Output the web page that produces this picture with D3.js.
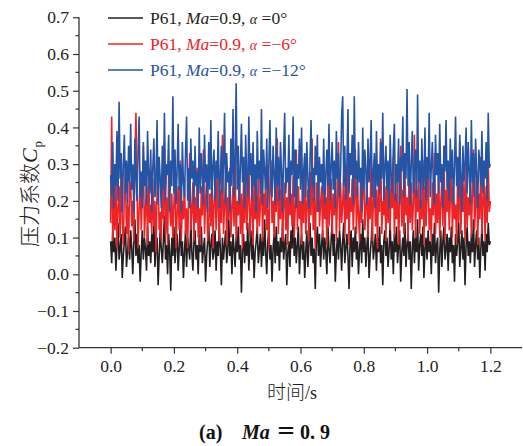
<!DOCTYPE html>
<html><head><meta charset="utf-8">
<script src="https://cdn.jsdelivr.net/npm/d3@7"></script>
<style>
body{margin:0;background:#fff;}
svg{display:block;}
text{font-family:"Liberation Serif","Times New Roman","Noto Sans CJK SC",serif;}
</style></head>
<body>
<svg id="c" width="523" height="446"></svg>
<script>
// ---- data ----
const duration = 1.2; // record length (s), samples evenly spaced over it
const seriesAlpha = ["0°", "−6°", "−12°"];
const seriesColors = ["#231f20", "#ec2327", "#2654a5"];
const black = [
0.09,0.03,0.12,0.06,0.10,0.01,0.08,0.14,0.04,0.07,0.11,-0.01,0.05,0.09,0.13,0.02,0.06,0.10,0.04,0.12,
0.07,0.00,0.09,0.15,0.05,0.11,0.03,0.08,-0.02,0.06,0.12,0.04,0.10,0.07,0.01,0.13,0.05,0.09,0.03,0.11,
0.06,0.14,0.02,0.08,0.10,-0.03,0.05,0.12,0.07,0.03,0.09,0.16,0.04,0.08,0.00,0.11,0.06,-0.045,0.10,0.05,
0.13,0.03,0.08,0.11,0.01,0.07,0.14,0.05,0.09,-0.01,0.06,0.12,0.02,0.10,0.07,0.04,0.15,0.06,0.01,0.09,
0.12,0.04,0.08,0.00,0.11,0.06,0.13,0.03,0.07,0.10,-0.02,0.05,0.09,0.14,0.02,0.08,0.11,0.04,0.06,0.12,
0.01,0.09,0.05,0.13,0.07,-0.03,0.10,0.04,0.08,0.12,0.03,0.06,0.15,0.05,0.09,0.00,0.11,0.07,0.02,0.10,
0.06,0.13,0.04,0.08,-0.05,0.07,0.11,0.03,0.09,0.05,0.14,0.01,0.08,0.12,0.04,0.10,-0.01,0.06,0.09,0.13,
0.03,0.07,0.11,0.02,0.10,0.05,0.15,0.06,0.00,0.09,0.12,0.04,0.08,-0.02,0.07,0.11,0.03,0.13,0.05,0.09,
0.01,0.10,0.06,0.14,0.04,0.08,0.11,-0.03,0.06,0.09,0.02,0.12,0.07,0.16,0.05,0.10,0.03,0.08,0.13,0.00,
0.07,0.11,0.04,0.09,-0.01,0.06,0.12,0.02,0.08,0.14,0.05,0.10,0.03,0.07,-0.04,0.09,0.13,0.05,0.11,0.02,
0.08,0.12,0.04,0.10,0.06,0.00,0.13,0.07,0.03,0.09,0.15,0.05,0.11,-0.02,0.06,0.10,0.04,0.12,0.08,0.01,
0.09,0.14,0.03,0.07,0.11,0.05,-0.04,0.08,0.12,0.02,0.10,0.06,0.13,0.04,0.09,0.00,0.07,0.11,0.03,0.15,
0.06,0.10,0.02,0.08,0.12,-0.01,0.05,0.09,0.14,0.04,0.07,0.11,0.01,0.10,0.06,0.13,0.03,0.08,-0.03,0.09,
0.12,0.05,0.10,0.02,0.07,0.14,0.04,0.09,0.00,0.11,0.06,0.13,0.03,0.08,0.12,-0.02,0.06,0.10,0.05,0.14,
0.02,0.08,0.11,0.04,0.09,-0.04,0.07,0.12,0.03,0.10,0.06,0.15,0.01,0.08,0.11,0.05,0.13,-0.01,0.07,0.10,
0.04,0.12,0.06,0.09,0.00,0.11,0.05,0.14,0.03,0.08,0.10,-0.05,0.06,0.12,0.02,0.09,0.13,0.04,0.07,0.11,
0.01,0.10,0.06,0.13,0.03,0.08,-0.02,0.11,0.05,0.09,0.14,0.02,0.07,0.12,0.04,0.10,-0.03,0.08,0.13,0.05,
0.09,0.03,0.11,0.06,0.15,0.02,0.08,0.12,0.04,0.10,-0.01,0.07,0.13,0.05,0.09,0.01,0.11,0.06,0.14,0.08,
0.09];
const red = [
0.14,0.43,0.09,0.21,0.12,0.27,0.07,0.18,0.24,0.10,0.33,0.15,0.08,0.22,0.28,0.11,0.19,0.06,0.25,0.25,
0.13,0.20,0.09,0.31,0.44,0.23,0.07,0.18,0.27,0.12,0.21,0.35,0.10,0.17,0.24,0.08,0.29,0.14,0.19,0.11,
0.26,0.13,0.20,0.06,0.23,0.30,0.12,0.17,0.09,0.25,0.15,0.36,0.11,0.21,0.08,0.27,0.18,0.13,0.22,0.10,
0.19,0.28,0.07,0.16,0.24,0.12,0.31,0.09,0.20,0.15,0.26,0.11,0.18,0.07,0.23,0.33,0.12,0.17,0.25,0.09,
0.21,0.14,0.29,0.10,0.18,0.08,0.24,0.16,0.34,0.11,0.20,0.26,0.09,0.15,0.22,0.13,0.28,0.07,0.19,0.25,
0.12,0.30,0.17,0.09,0.23,0.14,0.38,0.11,0.19,0.26,0.08,0.21,0.15,0.29,0.10,0.18,0.24,0.13,0.32,0.09,
0.20,0.16,0.27,0.11,0.22,0.07,0.25,0.14,0.30,0.12,0.19,0.35,0.10,0.17,0.23,0.08,0.26,0.15,0.21,0.11,
0.28,0.13,0.19,0.33,0.09,0.22,0.16,0.27,0.12,0.18,0.07,0.24,0.31,0.14,0.20,0.10,0.26,0.17,0.37,0.11,
0.23,0.15,0.29,0.09,0.19,0.25,0.12,0.21,0.08,0.30,0.16,0.22,0.13,0.27,0.10,0.18,0.34,0.12,0.24,0.15,
0.20,0.08,0.26,0.14,0.32,0.11,0.19,0.23,0.09,0.28,0.16,0.37,0.12,0.21,0.07,0.25,0.17,0.30,0.13,0.19,
0.24,0.10,0.27,0.15,0.21,0.08,0.33,0.13,0.18,0.26,0.11,0.22,0.16,0.29,0.09,0.20,0.36,0.12,0.25,0.14,
0.19,0.28,0.10,0.23,0.15,0.31,0.08,0.21,0.17,0.26,0.12,0.20,0.34,0.11,0.24,0.16,0.09,0.27,0.14,0.22,
0.30,0.12,0.18,0.25,0.10,0.21,0.15,0.33,0.09,0.19,0.27,0.13,0.23,0.07,0.26,0.17,0.37,0.11,0.20,0.16,
0.24,0.09,0.29,0.14,0.21,0.12,0.27,0.18,0.32,0.10,0.22,0.15,0.26,0.08,0.19,0.35,0.13,0.23,0.11,0.28,
0.16,0.21,0.09,0.30,0.14,0.25,0.12,0.19,0.38,0.10,0.23,0.17,0.27,0.11,0.20,0.15,0.31,0.08,0.24,0.13,
0.21,0.28,0.12,0.18,0.09,0.25,0.16,0.33,0.11,0.22,0.14,0.29,0.10,0.19,0.26,0.13,0.35,0.09,0.23,0.17,
0.27,0.12,0.20,0.31,0.10,0.24,0.15,0.19,0.08,0.28,0.14,0.36,0.11,0.22,0.17,0.25,0.09,0.30,0.13,0.21,
0.16,0.26,0.10,0.23,0.34,0.12,0.19,0.28,0.08,0.22,0.15,0.32,0.11,0.20,0.26,0.09,0.24,0.14,0.30,0.17,
0.20];
const blue = [
0.27,0.21,0.36,0.18,0.30,0.24,0.39,0.20,0.47,0.26,0.33,0.17,0.29,0.38,0.22,0.31,0.19,0.35,0.25,0.41,
0.23,0.30,0.17,0.37,0.26,0.20,0.33,0.43,0.21,0.28,0.18,0.36,0.24,0.31,0.19,0.39,0.27,0.22,0.34,0.17,
0.29,0.37,0.21,0.25,0.42,0.19,0.32,0.26,0.18,0.35,0.23,0.44,0.20,0.30,0.27,0.38,0.17,0.31,0.24,0.485,
0.22,0.34,0.19,0.28,0.41,0.23,0.30,0.17,0.36,0.25,0.21,0.33,0.43,0.20,0.29,0.18,0.37,0.26,0.31,0.19,
0.35,0.24,0.28,0.18,0.40,0.22,0.33,0.27,0.19,0.38,0.25,0.30,0.17,0.36,0.23,0.42,0.21,0.29,0.34,0.20,
0.31,0.26,0.39,0.18,0.27,0.35,0.22,0.30,0.44,0.19,0.33,0.25,0.28,0.17,0.37,0.24,0.45,0.21,0.30,0.52,
0.23,0.35,0.19,0.29,0.41,0.25,0.32,0.18,0.38,0.26,0.21,0.43,0.27,0.33,0.20,0.36,0.24,0.30,0.17,0.39,
0.26,0.31,0.22,0.45,0.19,0.34,0.28,0.23,0.37,0.18,0.30,0.42,0.25,0.21,0.35,0.27,0.19,0.40,0.24,0.32,
0.20,0.36,0.28,0.17,0.33,0.44,0.22,0.29,0.25,0.38,0.19,0.31,0.27,0.43,0.21,0.34,0.18,0.30,0.26,0.37,
0.23,0.40,0.19,0.28,0.33,0.21,0.36,0.26,0.18,0.31,0.42,0.24,0.29,0.20,0.35,0.27,0.38,0.17,0.32,0.25,
0.30,0.22,0.37,0.19,0.27,0.34,0.24,0.41,0.20,0.29,0.36,0.23,0.31,0.18,0.39,0.26,0.33,0.21,0.28,0.43,
0.485,0.24,0.35,0.20,0.30,0.45,0.22,0.33,0.27,0.38,0.19,0.485,0.26,0.31,0.21,0.36,0.25,0.29,0.17,0.40,
0.23,0.34,0.28,0.19,0.37,0.25,0.31,0.42,0.21,0.27,0.33,0.18,0.39,0.24,0.30,0.22,0.36,0.26,0.44,0.20,
0.29,0.35,0.23,0.31,0.18,0.38,0.27,0.22,0.34,0.41,0.20,0.30,0.25,0.37,0.19,0.32,0.28,0.43,0.21,0.33,
0.26,0.505,0.24,0.36,0.19,0.30,0.39,0.22,0.28,0.34,0.21,0.49,0.25,0.31,0.18,0.37,0.27,0.23,0.40,0.20,
0.32,0.26,0.44,0.21,0.29,0.36,0.24,0.19,0.38,0.27,0.33,0.22,0.41,0.25,0.30,0.18,0.35,0.28,0.42,0.23,
0.31,0.20,0.37,0.26,0.34,0.19,0.29,0.43,0.24,0.32,0.21,0.38,0.27,0.17,0.35,0.25,0.30,0.40,0.22,0.36,
0.28,0.19,0.42,0.25,0.33,0.21,0.37,0.27,0.18,0.34,0.30,0.24,0.39,0.22,0.31,0.26,0.36,0.20,0.44,0.29,
0.30];
const xTicks = [0.0, 0.2, 0.4, 0.6, 0.8, 1.0, 1.2];
const xMinor = [0.1, 0.3, 0.5, 0.7, 0.9, 1.1];
const yTicks = [-0.2, -0.1, 0.0, 0.1, 0.2, 0.3, 0.4, 0.5, 0.6, 0.7];
const yMinor = [-0.15, -0.05, 0.05, 0.15, 0.25, 0.35, 0.45, 0.55, 0.65];

// ---- chart ----
const svg = d3.select("#c");
const x = d3.scaleLinear().domain([-0.1, 1.3]).range([79, 522]);
const y = d3.scaleLinear().domain([-0.2, 0.7]).range([347.7, 17.3]);
const axisColor = "#333";

// lines
const series = [black, red, blue];
series.forEach((s, k) => {
  const n = s.length;
  const line = d3.line().x((d, i) => x(i * duration / (n - 1))).y(d => y(d));
  svg.append("path").datum(s).attr("d", line)
    .attr("fill", "none").attr("stroke", seriesColors[k])
    .attr("stroke-width", 1.6).attr("stroke-linejoin", "miter").attr("stroke-miterlimit", 3);
});

// y axis
const fmtY = d => (d < 0 ? "−" + d3.format(".1f")(-d) : d3.format(".1f")(Math.abs(d)));
const yAxis = d3.axisLeft(y).tickValues(yTicks).tickFormat(fmtY).tickSize(6).tickPadding(4);
const ga = svg.append("g").attr("transform", "translate(79,0)").call(yAxis);
ga.selectAll(".minor").data(yMinor).enter().append("line").attr("class", "minor")
  .attr("x1", 0).attr("x2", -3.5).attr("y1", d => y(d)).attr("y2", d => y(d));
ga.select(".domain").attr("d", `M0,${y(0.7)}V${y(-0.2)}`);

// x axis
const xAxis = d3.axisBottom(x).tickValues(xTicks).tickFormat(d3.format(".1f")).tickSize(6).tickPadding(6);
const gx = svg.append("g").attr("transform", "translate(0,347.7)").call(xAxis);
gx.selectAll(".minor").data(xMinor).enter().append("line").attr("class", "minor")
  .attr("y1", 0).attr("y2", 3.5).attr("x1", d => x(d)).attr("x2", d => x(d));
gx.select(".domain").attr("d", `M79,0H522`);

[ga, gx].forEach(g => {
  g.selectAll(".domain").attr("stroke", axisColor).attr("stroke-width", 1.3);
  g.selectAll(".tick line, .minor").attr("stroke", axisColor).attr("stroke-width", 1.2);
  g.selectAll(".tick text").attr("font-size", 17.5).attr("fill", "#222");
});

// axis titles
const xt = svg.append("text").attr("x", 292).attr("y", 399).attr("text-anchor", "middle")
  .attr("font-size", 19).attr("fill", "#222");
xt.append("tspan").attr("font-family", "Noto Sans CJK SC").attr("font-weight", 300).text("时间");
xt.append("tspan").attr("font-size", 18).text("/s");

const yt = svg.append("text").attr("transform", "translate(37,194) rotate(-90)")
  .attr("text-anchor", "middle").attr("font-size", 21).attr("fill", "#222");
yt.append("tspan").attr("font-family", "Noto Sans CJK SC").attr("font-weight", 300).text("压力系数");
yt.append("tspan").attr("font-style", "italic").attr("font-size", 22).text("C");
yt.append("tspan").attr("font-size", 13).attr("dy", 5).attr("dx", 1).text("p");

// legend
const legY = [18, 44, 70];
series.forEach((s, k) => {
  const ly = legY[k];
  svg.append("line").attr("x1", 108).attr("x2", 143).attr("y1", ly).attr("y2", ly)
    .attr("stroke", seriesColors[k]).attr("stroke-width", 1.6);
  const t = svg.append("text").attr("x", 150).attr("y", ly + 6).attr("font-size", 17.5)
    .attr("fill", seriesColors[k]);
  t.append("tspan").text("P61, ");
  t.append("tspan").attr("font-style", "italic").text("Ma");
  t.append("tspan").text("=0.9,  ");
  t.append("tspan").attr("font-style", "italic").attr("font-size", 14).text("α");
  t.append("tspan").text(" =" + seriesAlpha[k]);
});

// caption
const capG = svg.append("g").attr("font-size", 20).attr("font-weight", "bold").attr("fill", "#111");
capG.append("text").attr("x", 199).attr("y", 439).text("(a)");
capG.append("text").attr("x", 242).attr("y", 439).attr("font-style", "italic").text("Ma");
capG.append("text").attr("x", 276).attr("y", 439).attr("font-family", "Noto Sans CJK SC").style("font-family", "'Noto Sans CJK SC'").text("＝");
capG.append("text").attr("x", 300).attr("y", 439).text("0. 9");
</script>
</body></html>
